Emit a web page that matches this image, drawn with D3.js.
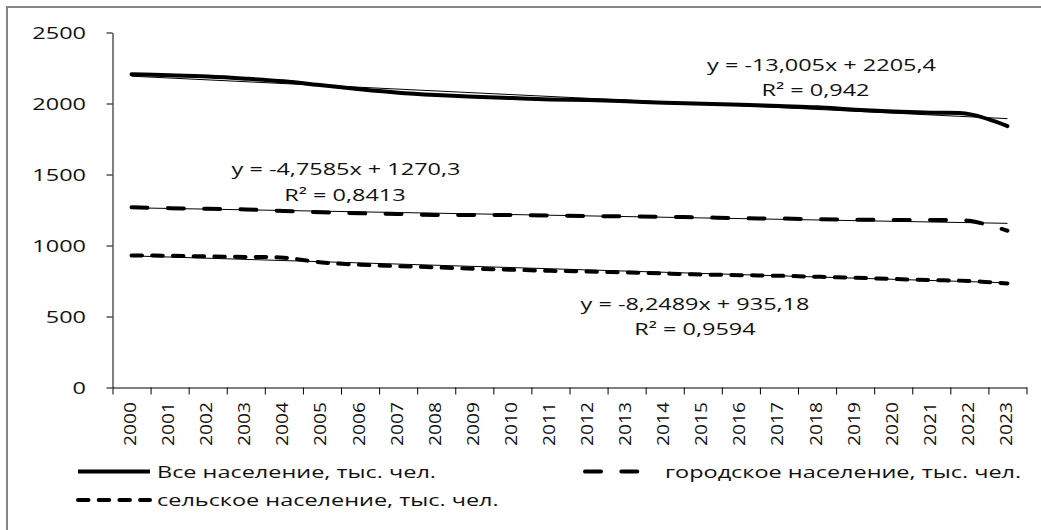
<!DOCTYPE html>
<html>
<head>
<meta charset="utf-8">
<script src="https://cdn.jsdelivr.net/npm/d3@7"></script>
<style>
  body { margin: 0; background: #fff; }
  svg { display: block; font-family: "Open Sans", sans-serif; }
</style>
</head>
<body>
<div class="chart"></div>
<script>
// data
const years = d3.range(2000, 2024).map(String);
const total = [2206, 2199, 2190, 2175, 2156, 2128, 2100, 2076, 2060, 2048, 2038, 2029,
               2024, 2015, 2006, 1999, 1992, 1982, 1973, 1956, 1944, 1935, 1925, 1841];
const urban = [1269, 1263, 1259, 1254, 1243, 1234, 1227, 1222, 1215, 1214, 1214, 1211,
               1207, 1205, 1202, 1198, 1192, 1190, 1185, 1182, 1180, 1179, 1174, 1104];
const rural = [930, 928, 923, 919, 914, 881, 865, 855, 846, 836, 829, 822,
               817, 810, 803, 796, 791, 787, 780, 773, 764, 757, 750, 733];
const seriesNames = ["Все население, тыс. чел.", "городское население, тыс. чел.", "сельское население, тыс. чел."];
const trendSlope = [-13.005, -4.7585, -8.2489];
const trendIntercept = [2205.4, 1270.3, 935.18];
const trendEq = ["y = -13,005x + 2205,4", "y = -4,7585x + 1270,3", "y = -8,2489x + 935,18"];
const trendR2 = ["R² = 0,942", "R² = 0,8413", "R² = 0,9594"];
const yTicks = [0, 500, 1000, 1500, 2000, 2500];

// setup chart
const width = 1041;
const height = 530;
const sx = 1.38; // text in the picture is stretched horizontally
const svg = d3.select(".chart").append("svg").attr("width", width).attr("height", height);

svg.append("rect")
   .attr("x", 7).attr("y", 7).attr("width", 1200).attr("height", 700)
   .attr("fill", "none").attr("stroke", "#868686").attr("stroke-width", 2);

const plotLeft = 112.5, plotRight = 1026.5, plotTop = 32.5, plotBottom = 387.5;
const x = d3.scaleBand().domain(years).range([plotLeft, plotRight]);
const xEdge = d3.scaleLinear().domain([0, years.length]).range([plotLeft, plotRight]);
const y = d3.scaleLinear().domain([0, 2500]).range([plotBottom, plotTop]);
const cx = (d) => x(d) + x.bandwidth() / 2;

// axes
svg.append("g")
   .attr("transform", `translate(${plotLeft},0)`)
   .style("color", "#000")
   .call(d3.axisLeft(y).tickValues(yTicks).tickSize(6).tickSizeOuter(0).tickFormat(""));

svg.append("g")
   .attr("transform", `translate(0,${plotBottom})`)
   .style("color", "#000")
   .call(d3.axisBottom(xEdge).tickValues(d3.range(years.length + 1)).tickSize(7).tickSizeOuter(0).tickFormat(""));

svg.append("g")
   .selectAll("text")
   .data(yTicks)
   .enter()
   .append("text")
   .attr("transform", (d) => `translate(86,${y(d) + 6}) scale(${sx},1)`)
   .attr("text-anchor", "end")
   .attr("font-size", 17)
   .attr("fill", "#111")
   .text((d) => d);

svg.append("g")
   .selectAll("text")
   .data(years)
   .enter()
   .append("text")
   .attr("transform", (d) => `translate(${cx(d) + 4.5},402) rotate(-90) scale(1.13,1)`)
   .attr("text-anchor", "end")
   .attr("font-size", 17)
   .attr("fill", "#111")
   .text((d) => d);

// lines
const line = d3.line()
   .x((d, i) => cx(years[i]))
   .y((d) => y(d))
   .curve(d3.curveCatmullRom.alpha(0.5));

const styles = [
   { dash: null, cap: "round" },
   { dash: "16,20.3", cap: "round" },
   { dash: "10.5,10.2", cap: "round" }
];

[total, urban, rural].forEach((values, k) => {
   svg.append("path")
      .datum(values)
      .attr("d", line)
      .attr("fill", "none")
      .attr("stroke", "#000")
      .attr("stroke-width", 4)
      .attr("stroke-linecap", styles[k].cap)
      .attr("stroke-dasharray", styles[k].dash);
});

// trend lines
trendSlope.forEach((m, k) => {
   const pts = [1, years.length].map((n) => [cx(years[n - 1]), y(m * n + trendIntercept[k])]);
   svg.append("path")
      .attr("d", d3.line()(pts))
      .attr("stroke", "#000")
      .attr("stroke-width", 1);
});

// trend labels
const eqPos = [[821.5, 70.5, 815.5, 96], [346, 175, 345, 200.5], [695, 309.5, 695, 335]];
eqPos.forEach((p, k) => {
   svg.append("text")
      .attr("transform", `translate(${p[0]},${p[1]}) scale(${sx},1)`)
      .attr("text-anchor", "middle").attr("font-size", 17).attr("fill", "#111")
      .text(trendEq[k]);
   svg.append("text")
      .attr("transform", `translate(${p[2]},${p[3]}) scale(${sx},1)`)
      .attr("text-anchor", "middle").attr("font-size", 17).attr("fill", "#111")
      .text(trendR2[k]);
});

// legend
const legendItems = [
   { k: 0, x0: 78, x1: 150, tx: 157, y: 471.5 },
   { k: 1, x0: 585, x1: 645, tx: 665, y: 471.5 },
   { k: 2, x0: 78, x1: 150, tx: 157, y: 500 }
];
const legend = svg.append("g").attr("id", "legend");
legendItems.forEach((d) => {
   legend.append("line")
      .attr("x1", d.x0).attr("x2", d.x1).attr("y1", d.y).attr("y2", d.y)
      .attr("stroke", "#000").attr("stroke-width", 4)
      .attr("stroke-linecap", d.k === 0 ? "butt" : "round")
      .attr("stroke-dasharray", styles[d.k].dash);
   legend.append("text")
      .attr("transform", `translate(${d.tx},${d.y + 6}) scale(${sx},1)`)
      .attr("font-size", 17).attr("fill", "#111")
      .text(seriesNames[d.k]);
});
</script>
</body>
</html>
